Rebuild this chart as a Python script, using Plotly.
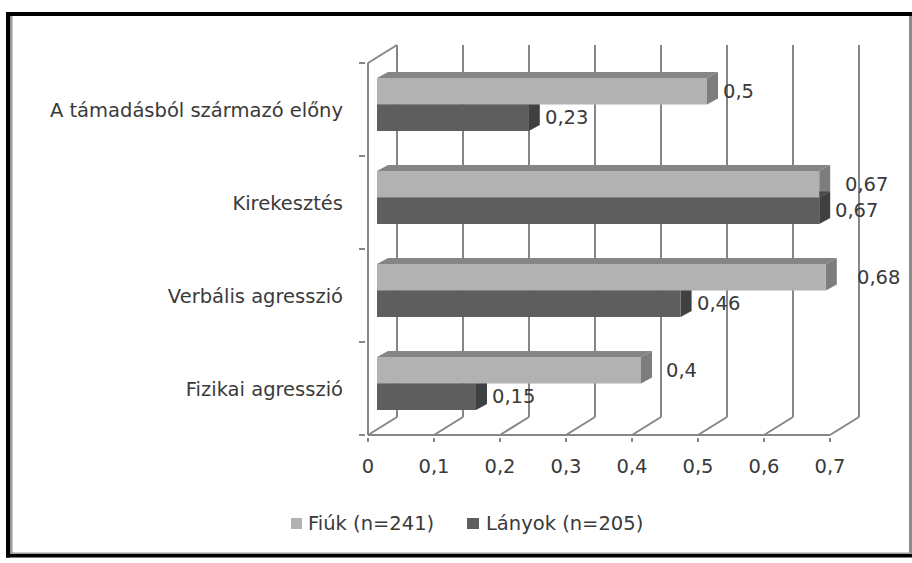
"""Hungarian aggression survey chart: faux-3D horizontal bars drawn from the data."""

import plotly.graph_objects as go

categories = ["Fizikai agresszió", "Verbális agresszió", "Kirekesztés", "A támadásból származó előny"]
fiuk = [0.4, 0.68, 0.67, 0.5]
lanyok = [0.15, 0.46, 0.67, 0.23]
fiuk_labels = ["0,4", "0,68", "0,67", "0,5"]
lanyok_labels = ["0,15", "0,46", "0,67", "0,23"]
x_ticks = [0, 0.1, 0.2, 0.3, 0.4, 0.5, 0.6, 0.7]
x_tick_labels = ["0", "0,1", "0,2", "0,3", "0,4", "0,5", "0,6", "0,7"]
series_names = ["Fiúk (n=241)", "Lányok (n=205)"]

W, H = 912, 563
L, R, T, B = 366, 866, 43, 437  # plot area in pixels
PX_X = 660  # pixels per x unit
PX_Y = 93  # pixels per category

# depth of the wall, and of the bars, in axis units
WALL_DX, WALL_DY = 29 / PX_X, 18 / PX_Y
BASE, BAR_SHIFT = 9 / PX_X, 5 / PX_Y
BAR_H = 26.5 / PX_Y
BAR_DX, BAR_DY = 11 / PX_X, 6 / PX_Y

GRID = "#868686"
TEXT = "#3a3a3a"
FONT = "DejaVu Sans"
FONT_SIZE = 19.5
LIGHT = dict(front="#b2b2b2", top="#858585", side="#7d7d7d")
DARK = dict(front="#5e5e5e", top="#4a4a4a", side="#404040")


def px_x(p):
    return (p - L) / (R - L)


def px_y(p):
    return (B - p) / (B - T)


def line(x0, y0, x1, y1):
    return dict(type="line", x0=x0, y0=y0, x1=x1, y1=y1, layer="below",
                line=dict(color=GRID, width=2))


def poly(points, color):
    path = "M" + "L".join(f"{x},{y}" for x, y in points) + "Z"
    return dict(type="path", path=path, fillcolor=color, layer="below", line=dict(width=0))


def box(x0, y0, x1, y1, color):
    return dict(type="rect", xref="paper", yref="paper", x0=px_x(x0), x1=px_x(x1),
                y0=px_y(y0), y1=px_y(y1), fillcolor=color, line=dict(width=0))


shapes = []

# wall and floor grid
for t in x_ticks:
    shapes.append(line(t + WALL_DX, WALL_DY, t + WALL_DX, len(categories) + WALL_DY))
    shapes.append(line(t, 0, t + WALL_DX, WALL_DY))
shapes.append(line(0, 0, x_ticks[-1], 0))
shapes.append(line(0, 0, 0, len(categories)))
shapes.append(line(0, len(categories), WALL_DX, len(categories) + WALL_DY))

# top and side faces, light series first so the dark side sits over it
centers = [i + 0.5 + BAR_SHIFT for i in range(len(categories))]
for vals, colors, sign in ((fiuk, LIGHT, 1), (lanyok, DARK, -1)):
    for v, c in zip(vals, centers):
        y0 = c if sign > 0 else c - BAR_H
        y1 = y0 + BAR_H
        end = BASE + v
        shapes.append(poly([(BASE, y1), (end, y1), (end + BAR_DX, y1 + BAR_DY),
                            (BASE + BAR_DX, y1 + BAR_DY)], colors["top"]))
        shapes.append(poly([(end, y0), (end, y1), (end + BAR_DX, y1 + BAR_DY),
                            (end + BAR_DX, y0 + BAR_DY)], colors["side"]))

# picture frame
shapes += [
    box(6, 12, 912, 16, "#000000"),
    box(6, 12, 10, 557.5, "#000000"),
    box(6, 554, 912, 557.5, "#000000"),
    box(10, 16, 12.5, 554, "#999999"),
    box(909, 16, 912, 554, "#8c8c8c"),
    box(12, 552.5, 912, 554, "#999999"),
]

# legend swatches
shapes += [
    box(291, 518, 302, 529, LIGHT["front"]),
    box(467, 518, 479, 529, DARK["front"]),
]

fig = go.Figure()
fig.add_trace(go.Bar(
    name=series_names[0], orientation="h", x=fiuk, base=[BASE] * len(fiuk),
    y=[c + BAR_H / 2 for c in centers], width=BAR_H,
    marker=dict(color=LIGHT["front"], line=dict(width=0)),
))
fig.add_trace(go.Bar(
    name=series_names[1], orientation="h", x=lanyok, base=[BASE] * len(lanyok),
    y=[c - BAR_H / 2 for c in centers], width=BAR_H,
    marker=dict(color=DARK["front"], line=dict(width=0)),
))

# labels sit further from the bar end on some light bars, as in the source
fiuk_pad = [24, 30, 25, 15]
lanyok_pad = [15, 15, 15, 15]
annotations = []
for vals, texts, pads, sign in ((fiuk, fiuk_labels, fiuk_pad, 1), (lanyok, lanyok_labels, lanyok_pad, -1)):
    for v, t, pad, c in zip(vals, texts, pads, centers):
        annotations.append(dict(
            x=BASE + v, y=c + sign * BAR_H / 2, text=t, showarrow=False,
            xanchor="left", xshift=pad, borderpad=0, font=dict(family=FONT, size=FONT_SIZE, color=TEXT),
        ))
for name, left in zip(series_names, (307, 485)):
    annotations.append(dict(
        xref="paper", yref="paper", x=px_x(left), y=px_y(523.5), text=name, showarrow=False,
        xanchor="left", yanchor="middle", borderpad=0, font=dict(family=FONT, size=FONT_SIZE, color=TEXT),
    ))

fig.update_layout(
    width=W, height=H,
    margin=dict(l=L, r=W - R, t=T, b=H - B, autoexpand=False),
    paper_bgcolor="white", plot_bgcolor="white",
    barmode="overlay", shapes=shapes, annotations=annotations,
    font=dict(family=FONT, size=FONT_SIZE, color=TEXT),
    showlegend=False,
    xaxis=dict(
        range=[(L - 368) / PX_X, (R - 368) / PX_X], showgrid=False, zeroline=False, showline=False,
        tickmode="array", tickvals=x_ticks, ticktext=x_tick_labels,
        ticks="outside", ticklen=4, tickwidth=2, tickcolor=GRID, ticklabelstandoff=8, fixedrange=True,
    ),
    yaxis=dict(
        range=[(435 - B) / PX_Y, (435 - T) / PX_Y], showgrid=False, zeroline=False, showline=False,
        tickmode="array", tickvals=[i + 0.49 for i in range(len(categories))], ticktext=categories,
        ticks="", ticklabelstandoff=22, fixedrange=True,
        minor=dict(tickmode="array", tickvals=list(range(len(categories) + 1)),
                   ticks="outside", ticklen=6, tickwidth=2, tickcolor=GRID),
    ),
)

# the page body has a default margin that would push the picture off by 8px
fig.write_html(
    "out.html",
    config=dict(displayModeBar=False),
    post_script="document.body.style.margin='0';document.documentElement.style.overflow='hidden';",
)
